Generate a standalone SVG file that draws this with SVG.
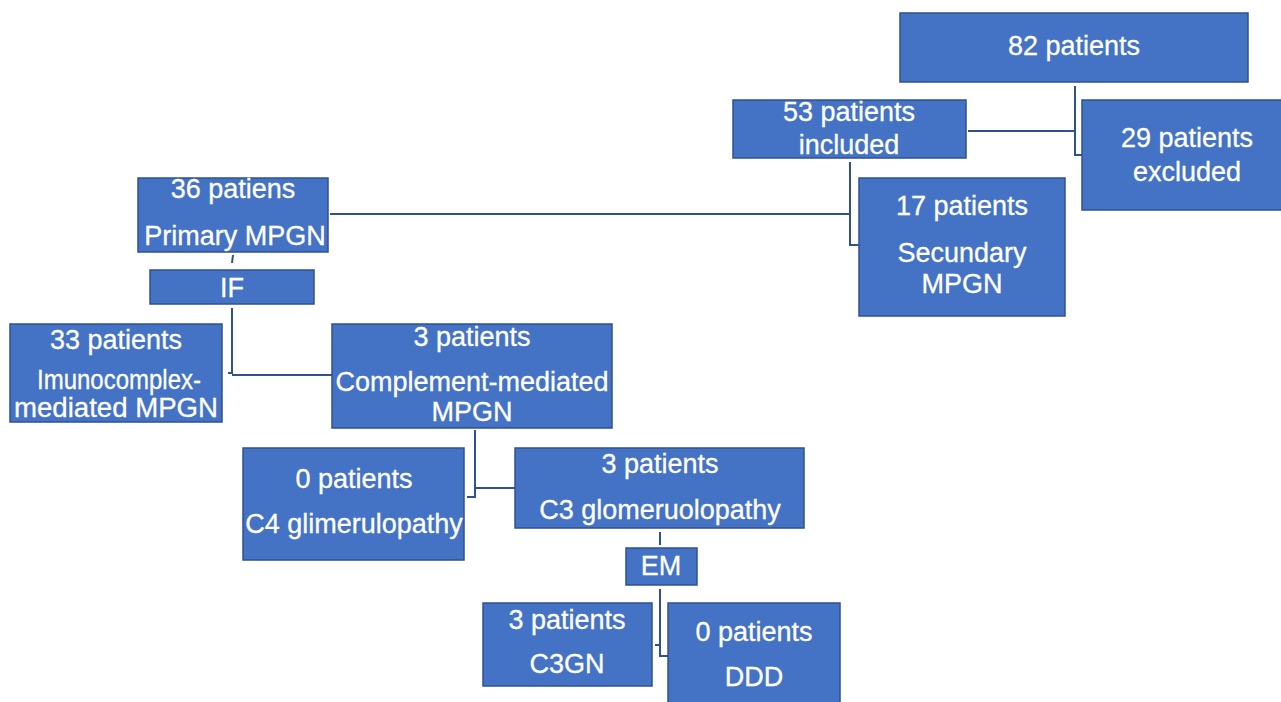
<svg xmlns="http://www.w3.org/2000/svg" width="1281" height="702" viewBox="0 0 1281 702">
<style>
.b{fill:#4472C4;stroke:#2F528F;stroke-width:1.5}
.t{fill:#fff;stroke:#fff;stroke-width:0.3;font-family:"Liberation Sans",Arial,sans-serif;font-size:27px;text-anchor:middle}
.c{fill:none;stroke:#2F528F;stroke-width:2}
</style>
<rect width="1281" height="702" fill="#fff"/>
<g id="connectors">
<polyline class="c" points="1075,86 1075,155 1082,155"/>
<line class="c" x1="968" y1="131" x2="1075" y2="131"/>
<polyline class="c" points="850,162 850,245 859,245"/>
<line class="c" x1="330" y1="214" x2="850" y2="214"/>
<line class="c" x1="233" y1="255" x2="232" y2="263"/>
<polyline class="c" points="232,308 232,373 228,373"/>
<line class="c" x1="232" y1="375" x2="332" y2="375"/>
<polyline class="c" points="475,430 475,497 467,497"/>
<line class="c" x1="475" y1="488" x2="515" y2="488"/>
<line class="c" x1="660" y1="532" x2="660" y2="545"/>
<polyline class="c" points="660,589 660,656 668,656"/>
<line class="c" x1="655" y1="645" x2="660" y2="645"/>
</g>
<g id="n82"><rect class="b" x="900" y="13" width="348" height="69"/><text class="t" x="1074" y="55">82 patients</text></g>
<g id="n53"><rect class="b" x="733" y="100" width="233" height="58"/><text class="t" x="849" y="121">53 patients</text><text class="t" x="849" y="154">included</text></g>
<g id="n29"><rect class="b" x="1082" y="100" width="205" height="110"/><text class="t" x="1187" y="147">29 patients</text><text class="t" x="1187" y="181">excluded</text></g>
<g id="n17"><rect class="b" x="859" y="178" width="206" height="138"/><text class="t" x="962" y="215">17 patients</text><text class="t" x="962" y="262">Secundary</text><text class="t" x="962" y="293">MPGN</text></g>
<g id="n36"><rect class="b" x="138" y="178" width="190" height="74"/><text class="t" x="233" y="198">36 patiens</text><text class="t" x="235" y="245">Primary MPGN</text></g>
<g id="nIF"><rect class="b" x="150" y="270" width="164" height="34"/><text class="t" x="232" y="297">IF</text></g>
<g id="n33"><rect class="b" x="10" y="324" width="212" height="98"/><text class="t" x="116" y="349">33 patients</text><text class="t" x="119" y="389" textLength="164" lengthAdjust="spacingAndGlyphs">Imunocomplex-</text><text class="t" x="116" y="417" textLength="204" lengthAdjust="spacingAndGlyphs">mediated MPGN</text></g>
<g id="n3cm"><rect class="b" x="332" y="324" width="280" height="104"/><text class="t" x="472" y="346">3 patients</text><text class="t" x="472" y="391">Complement-mediated</text><text class="t" x="472" y="421">MPGN</text></g>
<g id="n0c4"><rect class="b" x="243" y="448" width="221" height="112"/><text class="t" x="354" y="488">0 patients</text><text class="t" x="354" y="533">C4 glimerulopathy</text></g>
<g id="n3c3"><rect class="b" x="515" y="448" width="289" height="80"/><text class="t" x="660" y="473">3 patients</text><text class="t" x="660" y="519">C3 glomeruolopathy</text></g>
<g id="nEM"><rect class="b" x="626" y="548" width="71" height="37"/><text class="t" x="661" y="575">EM</text></g>
<g id="n3gn"><rect class="b" x="483" y="603" width="169" height="83"/><text class="t" x="567" y="629">3 patients</text><text class="t" x="567" y="673">C3GN</text></g>
<g id="n0ddd"><rect class="b" x="668" y="603" width="172" height="102"/><text class="t" x="754" y="641">0 patients</text><text class="t" x="754" y="686">DDD</text></g>
</svg>
